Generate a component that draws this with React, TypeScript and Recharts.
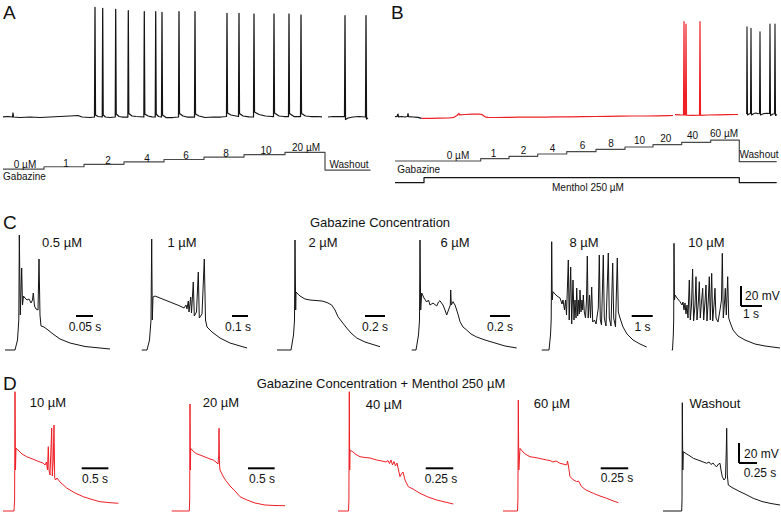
import React from 'react';
import { LineChart, Line, XAxis, YAxis, ReferenceLine } from 'recharts';

type P = [number, number | null];

// ─── Panel A: whole-cell recording (t in s, v in mV) ──────────────────────────

const aTrace: P[] = [
  [0, -65], [10, -64.5], [19, -65], [20, -61], [21, -65], [34, -65.5], [54, -65], [74, -65.5],
  [94, -65], [114, -64.5], [134, -64], [150, -63.5], [158, -65], [174, -65.5],
  [183, -65], [184, 44.7], [185, -63], [190, -64.5],
  [198.5, -65], [199.4, 43.7], [200.4, -63], [205, -65], [214, -65.5],
  [224.5, -65], [225.4, 42.7], [226.4, -62], [232, -64.5], [238, -65],
  [249.7, -65], [250.6, 41.3], [251.6, -61.5], [258, -64], [266, -64.5],
  [281.7, -65], [282.6, 40.3], [283.6, -62], [290, -64], [298, -64.8],
  [304.5, -65], [305.4, 40.3], [306.4, -62], [311, -64.5],
  [317, -65], [318, 39.7], [319, -63], [326, -65.5], [340, -65.5],
  [351, -65], [352, 40.3], [353, -61.5], [360, -64], [368, -65],
  [383, -65], [384, 40.3], [385, -62], [392, -64], [404, -65.5], [420, -65], [436, -65],
  [447, -64.5], [448, 38.7], [449, -61], [456, -63], [466, -64],
  [471, -64.5], [472, 38.7], [473, -61.5], [480, -64], [492, -64.8],
  [501, -65], [502, 38], [503, -60], [512, -62.5], [525, -64], [538, -64.5],
  [541, -64.5], [542, 38], [543, -61], [552, -64], [562, -64.5],
  [571, -64.5], [572, 38], [573, -61.5], [582, -64.5],
  [595, -64.5], [596, 37], [597, -61.5], [605, -64], [615, -64.5], [628, -64.5], [638, -64.8],
  [644, null],
  [650, -65], [660, -64.5], [672, -64.5], [683, -64.5], [684, 36.3], [685, -67.5], [690, -66],
  [700, -65], [712, -64.5], [725, -65], [726, 36.3], [727, -67], [730, -66],
];

// staircase: time of each step and its level (0 µM, 1, 2, 4, 6, 8, 10, 20 µM, washout)
const aStepTimes = [0, 82, 162, 242, 322, 402, 482, 564, 644, 735];
const aStepLevels = [0, 1, 2, 3, 4, 5, 6, 7, -0.4, -0.4];

// ─── Panel B: recording with menthol ──────────────────────────────────────────

const bPre: P[] = [
  [0, -64.7], [4, -64.5], [6, -62], [7, -64.8], [14, -64.5], [20, -65], [25, -64.5],
  [26, -61.5], [27, -64.7], [36, -65], [46, -65.3], [53, -66.3],
];

const bMenthol: P[] = [
  [53, -66.3], [70, -66.4], [90, -66.2], [108, -66], [118, -65.3], [124, -63.5], [128, -61.5],
  [129, -62.8], [140, -62.5], [155, -62.2], [168, -62], [174, -62.6], [180, -64.8], [186, -65.4],
  [200, -65.5], [225, -65.3], [250, -65.2], [275, -65], [300, -65.1], [325, -64.8], [350, -64.8],
  [375, -64.6], [400, -64.5], [425, -64.4], [450, -64.2], [475, -64], [500, -64], [525, -63.8],
  [545, -63.6], [556, -63.5], [558, null], [560, -62.6], [570, -62.9], [577, -63],
  [578, 30.3], [579, -63], [581, -63], [582, 28], [583, -63.2], [595, -63.3],
  [609, -63.2], [610, 30.3], [611, -63.3], [625, -63], [645, -62.8], [665, -62.7], [686, -62.5],
];

const bWash: P[] = [
  [702, -61.5], [703.3, -61.5], [704, 25.3], [705, -63], [708, -62], [711, -61.5], [712, 23.7],
  [713, -63], [718, -61.5], [722, -61], [726, -61.8], [729, -61.5], [730, 20.3], [731, -63],
  [738, -61.5], [744, -61.3], [749, -61.5], [750, 28], [751, -63.5], [756, -62], [759, -61.8],
  [760, 28], [761, -63.5], [764, -62.5],
];

// staircase: 0 µM, 1, 2, 4, 6, 8, 10, 20, 40, 60 µM, washout
const bStepTimes = [0, 171.4, 228, 285.4, 343.4, 402, 460, 516, 573.4, 631.4, 688.6, 763.4];
const bStepLevels = [0, 1, 2, 3, 4, 5, 6, 7, 8, 9, -0.3, -0.3];
const mentholTimes = [0, 58, 688.6, 763.4];
const mentholLevels = [0, 1, 0, 0];

// ─── Panel C: single bursts at each gabazine concentration ───────────────────

const c05: P[] = [
  [0, -75], [0.0294, -75], [0.0368, -65], [0.0406, -45], [0.0421, 40], [0.045, -40], [0.0491, 7],
  [0.0515, -30], [0.0544, -21], [0.0588, -23], [0.0647, -25], [0.0706, -24], [0.0765, -28],
  [0.0809, -25], [0.0832, -18], [0.0868, -31], [0.0912, -34], [0.0971, -35], [0.1, 16],
  [0.1029, -40], [0.1059, -51], [0.1147, -52], [0.1265, -55], [0.1412, -59], [0.1618, -64],
  [0.1912, -68], [0.2353, -71.5], [0.3088, -74],
];

const c1: P[] = [
  [0.0106, -75], [0.0438, -75], [0.0594, -65], [0.0688, -45], [0.0731, 36], [0.0769, -45],
  [0.0813, -22], [0.0938, -21], [0.125, -23], [0.1563, -25], [0.1875, -27], [0.2188, -29],
  [0.25, -31], [0.275, -33], [0.2875, -30], [0.2938, -34], [0.3019, -26], [0.3063, -37],
  [0.3169, -22], [0.3219, -38], [0.3331, -7], [0.3394, -41], [0.3531, -37], [0.3644, 3],
  [0.3706, -43], [0.3875, -39], [0.4019, 16], [0.4094, -45], [0.4188, -52], [0.45, -57],
  [0.5, -63], [0.5625, -68], [0.6688, -73],
];

const c2: P[] = [
  [0.02, -75], [0.16, -75], [0.185, -60], [0.195, -45], [0.2, 35], [0.207, -35], [0.21, -17],
  [0.25, -21], [0.3, -24], [0.35, -25], [0.41, -25.5], [0.47, -26], [0.52, -27.5], [0.567, -30],
  [0.6, -35], [0.63, -41.7], [0.67, -47], [0.717, -53], [0.76, -58], [0.817, -63], [0.9, -67],
  [1.05, -71.7],
];

const c6: P[] = [
  [0.017, -75], [0.06, -75], [0.085, -60], [0.095, -45], [0.1, 35], [0.107, -35], [0.117, -18],
  [0.14, -23], [0.167, -27], [0.185, -25], [0.2, -30], [0.23, -28], [0.267, -31], [0.285, -27],
  [0.3, -25.7], [0.315, -28], [0.33, -30], [0.35, -35], [0.367, -40], [0.385, -35], [0.403, -30],
  [0.407, -15], [0.413, -30], [0.43, -26.7], [0.45, -30], [0.467, -35], [0.485, -41],
  [0.5, -46.7], [0.53, -52], [0.567, -55], [0.61, -59], [0.667, -62], [0.75, -65], [0.85, -68],
  [0.95, -71], [1.067, -73],
];

const c8: P[] = [
  [0.081, -75], [0.4286, -75], [0.5, -60], [0.5333, -45], [0.5571, 33.3], [0.581, -25],
  [0.619, -16.7], [0.7143, -19], [0.8095, -21], [0.9524, -23], [1.0476, -29], [1.0952, -25],
  [1.1667, -35], [1.2143, -25], [1.2619, -40], [1.3476, 15], [1.3905, -45], [1.4619, 8],
  [1.5095, -49], [1.5714, -5], [1.619, -45], [1.6667, -25], [1.7143, -43], [1.7476, -13],
  [1.7952, -41], [1.8333, -25], [1.8714, -39], [1.9048, -15], [1.9524, -37], [2.0, -25],
  [2.0333, -35], [2.0619, -20], [2.1095, -37], [2.1667, -43], [2.2143, -25], [2.2524, 19],
  [2.2952, -43], [2.3571, -20], [2.4048, -43], [2.4619, -12], [2.5095, -47], [2.5952, -45],
  [2.6667, -49], [2.7762, -33], [2.8238, 20], [2.8714, -45], [2.9286, -50], [3.0143, 20],
  [3.0619, -43], [3.1429, -51], [3.2524, 22], [3.3, -43], [3.381, -51], [3.4619, 12],
  [3.5095, -43], [3.5952, -52], [3.681, 17], [3.7286, -37], [3.8095, -43], [3.9524, -52],
  [4.1429, -59], [4.4286, -65], [4.7619, -69], [5.081, -72],
];

const c10: P[] = [
  [0.319, -75], [0.357, -75], [0.3952, -60], [0.4143, -45], [0.4286, 31.7], [0.4524, -25],
  [0.4762, -20], [0.5714, -23], [0.7143, -26.7], [0.8095, -30], [0.8571, -27], [0.9048, -35],
  [0.9524, -28], [1.0, -39], [1.0476, -30], [1.0952, -43], [1.1571, -5], [1.2048, -45],
  [1.2619, -30], [1.3143, 6], [1.3619, -46], [1.4286, -30], [1.4762, -1.7], [1.5238, -45],
  [1.5952, -25], [1.6333, -6.7], [1.681, -43], [1.7381, -27], [1.7952, -13.3], [1.8429, -45],
  [1.9048, -27], [1.9524, -10], [2.0, -46], [2.0619, -25], [2.1095, -1.7], [2.1571, -45],
  [2.2238, 1.7], [2.2714, -46], [2.3333, -30], [2.381, -13.3], [2.4286, -43], [2.5238, -47],
  [2.619, -35], [2.6905, -25], [2.7286, 21.7], [2.7762, -43], [2.8429, -25], [2.8714, -13.3],
  [2.919, -40], [2.9857, -1.7], [3.0333, -43], [3.0952, -47], [3.2381, -55], [3.4762, -61],
  [3.8095, -65], [4.2857, -69], [4.7619, -71], [5.4762, -73],
];

// ─── Panel D: bursts with gabazine + menthol 250 µM, then washout ─────────────

const d10: P[] = [
  [0.0563, -75], [0.2625, -75], [0.2738, -64], [0.2813, 44.3], [0.2906, -34], [0.3, -12.3],
  [0.3375, -14], [0.4125, -18], [0.5006, -20.7], [0.5625, -22], [0.6563, -24], [0.75, -26],
  [0.8063, -27], [0.8438, -29], [0.8719, -26], [0.8907, -34], [0.9057, -10.7], [0.9188, -34],
  [0.9376, -39], [0.9619, -4], [0.9694, 8], [0.9807, -40], [0.9994, -24], [1.0126, 11],
  [1.0257, -42], [1.0407, -44], [1.0688, -42], [1.1251, -46], [1.2507, -52], [1.4063, -57],
  [1.562, -60.7], [1.7251, -63.5], [1.8751, -65.7], [2.0626, -66.7], [2.2183, -67.3],
];

const d20: P[] = [
  [0.0319, -75], [0.3619, -75], [0.3694, -64], [0.375, 32], [0.3825, -34], [0.3881, -12.3],
  [0.4313, -15], [0.4875, -17.5], [0.5625, -19], [0.6563, -21], [0.75, -23], [0.8119, -24],
  [0.8626, -26], [0.9001, -28], [0.9132, -19], [0.9188, 7.7], [0.9282, -29], [0.9376, -34],
  [0.9751, -38], [1.0126, -42], [1.0632, -45.7], [1.1251, -50], [1.2188, -55], [1.3126, -60.7],
  [1.4438, -64], [1.5938, -67], [1.7814, -69], [1.9689, -69.5], [2.1564, -69.7],
];

const d40: P[] = [
  [0.0273, -75], [0.1227, -75], [0.1264, -64], [0.13, 44.3], [0.1336, -34], [0.1364, -14],
  [0.1636, -16], [0.1909, -18.5], [0.2273, -20.7], [0.2727, -21.5], [0.3182, -22], [0.3791, -24],
  [0.4273, -25], [0.4636, -26], [0.4818, -24.5], [0.4955, -27.5], [0.5091, -24], [0.5227, -29],
  [0.5364, -25.5], [0.55, -30], [0.5636, -27], [0.5773, -34], [0.5909, -40.7], [0.6064, -37.3],
  [0.6182, -36], [0.6364, -44], [0.6664, -50.7], [0.7091, -53], [0.7727, -57.3], [0.8455, -61],
  [0.9245, -64], [1.0, -66], [1.0755, -68],
];

const d60: P[] = [
  [0.0273, -75], [0.1591, -75], [0.1627, -64], [0.1664, 36], [0.1709, -34], [0.1818, -12.3],
  [0.2091, -16], [0.2364, -18.5], [0.2727, -20.7], [0.3182, -21.5], [0.3636, -22.5],
  [0.4245, -24], [0.4545, -24.5], [0.4818, -26], [0.5091, -25], [0.5455, -27.3], [0.5727, -28],
  [0.6064, -29], [0.6136, -25], [0.6227, -30], [0.6364, -40.7], [0.6636, -43.5], [0.6973, -45.7],
  [0.7136, -45], [0.7427, -50.7], [0.7818, -54], [0.8482, -57.3], [0.9091, -60], [0.97, -62.3],
  [1.0182, -64.5], [1.0755, -66.7],
];

const dWash: P[] = [
  [0.0417, -75], [0.3014, -75], [0.3056, -64], [0.3097, 33.3], [0.3167, -34], [0.3236, -15.7],
  [0.3611, -17.5], [0.4167, -20], [0.4625, -22.3], [0.5278, -24], [0.5833, -25.5], [0.6486, -27.3],
  [0.6806, -26], [0.7083, -28.5], [0.7361, -27], [0.7639, -29.5], [0.7875, -30.7], [0.8125, -28],
  [0.8333, -27.3], [0.8472, -34], [0.8653, -40.7], [0.8889, -44], [0.9097, -42], [0.9208, -14],
  [0.9264, 7.7], [0.9347, -39], [0.9486, -49], [1.0, -51.5], [1.1111, -55.7], [1.1944, -58.5],
  [1.2958, -62.3], [1.4167, -65.5], [1.5417, -67.5], [1.6667, -69],
];

// ─── helpers ──────────────────────────────────────────────────────────────────

const BLACK = '#141414';
const RED = '#ee2026';
const STAIR = '#4a4a4a';
const FONT = '"Liberation Sans", Arial, Helvetica, sans-serif';

const steps = (ts: number[], ls: number[]): P[] => ts.map((t, i) => [t, ls[i]]);

type Seg = { pts: P[]; color: string; w?: number; step?: boolean };
type Bar = [number, number, number, number];

function Trace({
  box,
  x,
  y,
  segs,
  bars = [],
}: {
  box: [number, number, number, number];
  x: [number, number];
  y: [number, number];
  segs: Seg[];
  bars?: Bar[];
}) {
  const [left, top, width, height] = box;
  return (
    <div style={{ position: 'absolute', left, top, width, height }}>
      <LineChart width={width} height={height} margin={{ top: 0, right: 0, bottom: 0, left: 0 }}>
        <XAxis type="number" dataKey="t" domain={x} hide allowDataOverflow />
        <YAxis type="number" domain={y} hide allowDataOverflow />
        {segs.map((s, i) => (
          <Line
            key={i}
            data={s.pts.map(([t, v]) => ({ t, v }))}
            dataKey="v"
            type={s.step ? 'stepAfter' : 'linear'}
            stroke={s.color}
            strokeWidth={s.w ?? 1}
            strokeLinejoin="round"
            dot={false}
            activeDot={false}
            isAnimationActive={false}
          />
        ))}
        {bars.map(([x1, y1, x2, y2], i) => (
          <ReferenceLine
            key={'bar' + i}
            segment={[{ x: x1, y: y1 }, { x: x2, y: y2 }]}
            stroke="#000"
            strokeWidth={2}
            ifOverflow="visible"
          />
        ))}
      </LineChart>
    </div>
  );
}

type T = [string, number, number, number, ('start' | 'middle')?];

const texts: T[] = [
  ['A', 3, 12, 19, 'start'],
  ['B', 391, 12, 19, 'start'],
  ['C', 3, 222, 19, 'start'],
  ['D', 3, 383, 19, 'start'],
  // A staircase
  ['0 µM', 25, 164, 10], ['1', 66, 163, 10], ['2', 108, 160, 10], ['4', 147, 158, 10],
  ['6', 186, 155.5, 10], ['8', 226, 153, 10], ['10', 266, 150.5, 10], ['20 µM', 306, 147.5, 10],
  ['Washout', 349, 164, 10], ['Gabazine', 24.5, 176, 10],
  // B staircase
  ['0 µM', 458, 155.5, 10], ['1', 493.5, 153, 10], ['2', 523.5, 150.3, 10], ['4', 552.5, 148, 10],
  ['6', 582.5, 145.7, 10], ['8', 611, 143, 10], ['10', 639.5, 140.3, 10], ['20', 665.7, 138, 10],
  ['40', 692.5, 135.5, 10], ['60 µM', 724, 133.3, 10], ['Washout', 759, 154, 10],
  ['Gabazine', 418.7, 169, 10], ['Menthol 250 µM', 588, 187, 10],
  // C
  ['Gabazine Concentration', 380, 222, 13],
  ['0.5 µM', 62, 242, 13], ['1 µM', 182, 242, 13], ['2 µM', 323, 242, 13], ['6 µM', 455, 242, 13],
  ['8 µM', 584, 242, 13], ['10 µM', 706.5, 242, 13],
  ['0.05 s', 85, 327, 12], ['0.1 s', 238, 327, 12], ['0.2 s', 375, 327, 12], ['0.2 s', 500, 327, 12],
  ['1 s', 642.5, 327, 12], ['20 mV', 745, 296, 12, 'start'], ['1 s', 751, 314, 12],
  // D
  ['Gabazine Concentration + Menthol 250 µM', 381, 383, 13],
  ['10 µM', 48, 402, 13], ['20 µM', 221, 402, 13], ['40 µM', 384, 404, 13], ['60 µM', 552, 403, 13],
  ['Washout', 715, 403, 13],
  ['0.5 s', 95, 479, 12], ['0.5 s', 262, 479, 12], ['0.25 s', 441, 479, 12], ['0.25 s', 617, 478, 12],
  ['20 mV', 744, 454, 12, 'start'], ['0.25 s', 760, 472.5, 12],
];

const C_Y: [number, number] = [-80, 50];
const D_Y: [number, number] = [-79, 51];

export default function App() {
  return (
    <div
      style={{
        position: 'absolute',
        left: 0,
        top: 0,
        width: 781,
        height: 515,
        background: '#fff',
        overflow: 'hidden',
      }}
    >
      {/* A */}
      <Trace box={[3, 0, 368, 130]} x={[0, 736]} y={[-78, 52]} segs={[{ pts: aTrace, color: BLACK, w: 1.25 }]} />
      <Trace
        box={[3, 140, 368, 40]}
        x={[0, 736]}
        y={[-4.5, 12.1]}
        segs={[{ pts: steps(aStepTimes, aStepLevels), color: STAIR, w: 1.2, step: true }]}
      />

      {/* B */}
      <Trace
        box={[395, 0, 383, 130]}
        x={[0, 766]}
        y={[-78, 52]}
        segs={[
          { pts: bPre, color: BLACK, w: 1.2 },
          { pts: bMenthol, color: RED, w: 1.2 },
          { pts: bWash, color: BLACK, w: 1.1 },
        ]}
      />
      <Trace
        box={[395, 125, 383, 45]}
        x={[0, 766]}
        y={[-3.86, 15.45]}
        segs={[{ pts: steps(bStepTimes, bStepLevels), color: STAIR, w: 1.2, step: true }]}
      />
      <Trace
        box={[395, 170, 383, 20]}
        x={[0, 766]}
        y={[-1.46, 2.54]}
        segs={[{ pts: steps(mentholTimes, mentholLevels), color: BLACK, w: 1.2, step: true }]}
      />

      {/* C */}
      <Trace box={[5, 225, 110, 130]} x={[0, 0.3235]} y={C_Y} segs={[{ pts: c05, color: BLACK }]} bars={[[0.2088, -41, 0.2588, -41]]} />
      <Trace box={[140, 225, 110, 130]} x={[0, 0.6875]} y={C_Y} segs={[{ pts: c1, color: BLACK }]} bars={[[0.575, -41, 0.675, -41]]} />
      <Trace box={[275, 225, 110, 130]} x={[0, 1.1]} y={C_Y} segs={[{ pts: c2, color: BLACK }]} bars={[[0.9, -41, 1.1, -41]]} />
      <Trace box={[410, 225, 110, 130]} x={[0, 1.1]} y={C_Y} segs={[{ pts: c6, color: BLACK }]} bars={[[0.8, -41, 1.0, -41]]} />
      <Trace box={[540, 225, 115, 130]} x={[0, 5.476]} y={C_Y} segs={[{ pts: c8, color: BLACK }]} bars={[[4.367, -41, 5.367, -41]]} />
      <Trace
        box={[665, 225, 116, 130]}
        x={[0, 5.524]}
        y={C_Y}
        segs={[{ pts: c10, color: BLACK }]}
        bars={[
          [3.619, -31, 3.619, -11],
          [3.619, -31, 4.619, -31],
        ]}
      />

      {/* D */}
      <Trace box={[0, 385, 125, 130]} x={[0, 2.344]} y={D_Y} segs={[{ pts: d10, color: RED }]} bars={[[1.532, -32.3, 2.032, -32.3]]} />
      <Trace box={[170, 385, 120, 130]} x={[0, 2.25]} y={D_Y} segs={[{ pts: d20, color: RED }]} bars={[[1.4625, -32.3, 1.9625, -32.3]]} />
      <Trace box={[335, 385, 125, 130]} x={[0, 1.1364]} y={D_Y} segs={[{ pts: d40, color: RED }]} bars={[[0.825, -32.3, 1.075, -32.3]]} />
      <Trace box={[500, 385, 130, 130]} x={[0, 1.1818]} y={D_Y} segs={[{ pts: d60, color: RED }]} bars={[[0.9155, -32.3, 1.1655, -32.3]]} />
      <Trace
        box={[660, 385, 121, 130]}
        x={[0, 1.6806]}
        y={D_Y}
        segs={[{ pts: dWash, color: BLACK }]}
        bars={[
          [1.0972, -27, 1.0972, -7],
          [1.0972, -27, 1.3472, -27],
        ]}
      />

      <svg
        width={781}
        height={515}
        style={{ position: 'absolute', left: 0, top: 0, pointerEvents: 'none' }}
      >
        {texts.map(([s, x, y, size, anchor], i) => (
          <text
            key={i}
            x={x}
            y={y}
            fontSize={size}
            fontFamily={FONT}
            fill="#111"
            textAnchor={anchor ?? 'middle'}
            dominantBaseline="central"
          >
            {s}
          </text>
        ))}
      </svg>
    </div>
  );
}
